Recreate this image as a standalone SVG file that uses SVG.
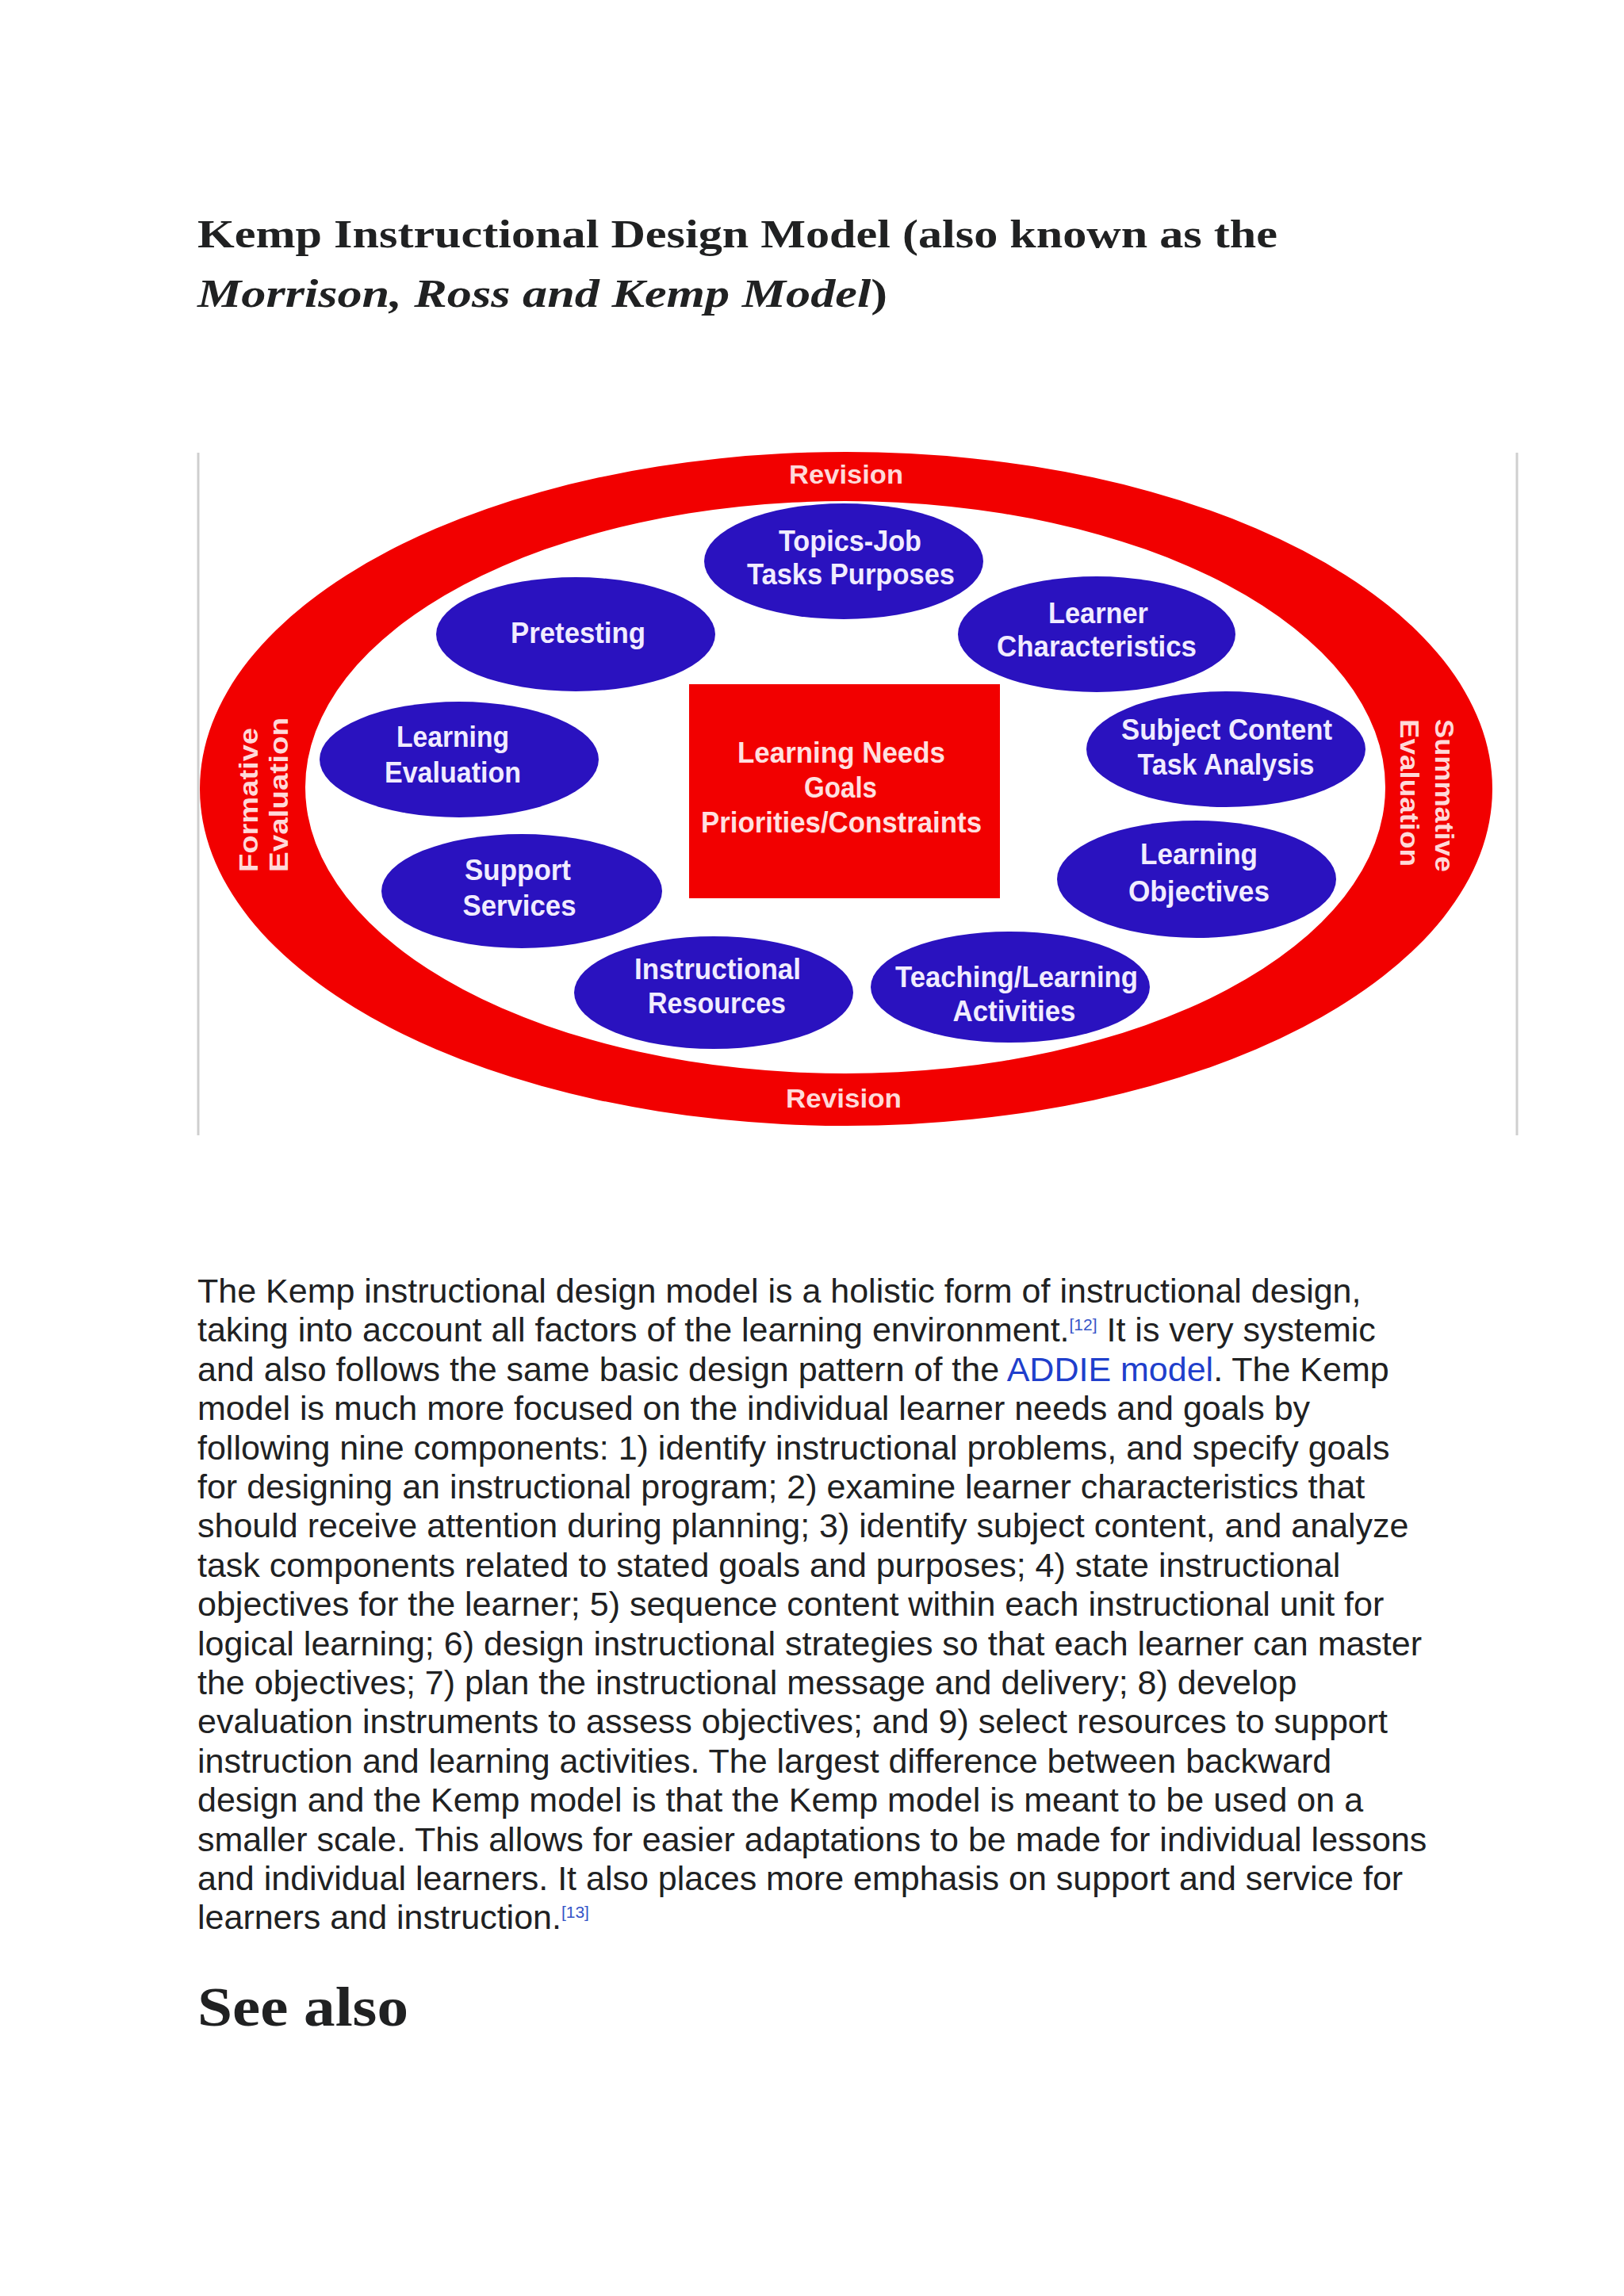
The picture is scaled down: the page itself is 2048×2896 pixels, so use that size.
<svg xmlns="http://www.w3.org/2000/svg" width="2048" height="2896" viewBox="0 0 2048 2896">
<style>
.title{font-family:"Liberation Serif",Georgia,serif;font-weight:bold;fill:#202122}
.body{font-family:"Liberation Sans",Arial,sans-serif;font-size:43px;fill:#202122}
.sup{font-size:21px;fill:#3655c8}
.link{fill:#1f3fcc}
.node ellipse{fill:#2a12bf}
.lbl{font-family:"Liberation Sans",Arial,sans-serif;font-weight:bold;font-size:36px;fill:#f1ecff;text-anchor:middle}
.ring{font-family:"Liberation Sans",Arial,sans-serif;font-weight:bold;font-size:33px;fill:#ffd9d9}
.ctr{font-family:"Liberation Sans",Arial,sans-serif;font-weight:bold;font-size:36px;fill:#ffe0e0;text-anchor:middle}
</style>
<rect width="2048" height="2896" fill="#ffffff"/>

<g id="title">
<text class="title" x="249" y="312" font-size="50" textLength="1362" lengthAdjust="spacingAndGlyphs">Kemp Instructional Design Model (also known as the</text>
<text class="title" x="249" y="387" font-size="50" textLength="870" lengthAdjust="spacingAndGlyphs"><tspan font-style="italic">Morrison, Ross and Kemp Model</tspan>)</text>
</g>

<g id="figure">
<line x1="250" y1="571" x2="250" y2="1432" stroke="#cfcfcf" stroke-width="3"/>
<line x1="1913" y1="571" x2="1913" y2="1432" stroke="#cfcfcf" stroke-width="3"/>
</g>

<g id="ring">
<path d="M252,995 a815,425 0 1,0 1630,0 a815,425 0 1,0 -1630,0 Z M385,993 a681,361 0 1,1 1362,0 a681,361 0 1,1 -1362,0 Z" fill="#f20000" fill-rule="evenodd"/>
<text class="ring" x="1067" y="610" text-anchor="middle" textLength="144" lengthAdjust="spacingAndGlyphs">Revision</text>
<text class="ring" x="1064" y="1397" text-anchor="middle" textLength="146" lengthAdjust="spacingAndGlyphs">Revision</text>
<text class="ring" transform="translate(325,1100) rotate(-90)" textLength="182" lengthAdjust="spacingAndGlyphs">Formative</text>
<text class="ring" transform="translate(363,1100) rotate(-90)" textLength="195" lengthAdjust="spacingAndGlyphs">Evaluation</text>
<text class="ring" transform="translate(1810,907) rotate(90)" textLength="193" lengthAdjust="spacingAndGlyphs">Summative</text>
<text class="ring" transform="translate(1766,907) rotate(90)" textLength="186" lengthAdjust="spacingAndGlyphs">Evaluation</text>
</g>

<g id="center-needs">
<rect x="869" y="863" width="392" height="270" fill="#f20000"/>
<text class="ctr" x="1061" y="962" textLength="262" lengthAdjust="spacingAndGlyphs">Learning Needs</text>
<text class="ctr" x="1060" y="1006" textLength="92" lengthAdjust="spacingAndGlyphs">Goals</text>
<text class="ctr" x="1061" y="1050" textLength="354" lengthAdjust="spacingAndGlyphs">Priorities/Constraints</text>
</g>

<g id="node-topics" class="node">
<ellipse cx="1064" cy="708" rx="176" ry="73"/>
<text class="lbl" x="1072" y="695" textLength="180" lengthAdjust="spacingAndGlyphs">Topics-Job</text>
<text class="lbl" x="1073" y="737" textLength="262" lengthAdjust="spacingAndGlyphs">Tasks Purposes</text>
</g>

<g id="node-pretesting" class="node">
<ellipse cx="726" cy="800" rx="176" ry="72"/>
<text class="lbl" x="729" y="811" textLength="170" lengthAdjust="spacingAndGlyphs">Pretesting</text>
</g>

<g id="node-learner" class="node">
<ellipse cx="1383" cy="800" rx="175" ry="73"/>
<text class="lbl" x="1385" y="786" textLength="126" lengthAdjust="spacingAndGlyphs">Learner</text>
<text class="lbl" x="1383" y="828" textLength="252" lengthAdjust="spacingAndGlyphs">Characteristics</text>
</g>

<g id="node-learning-evaluation" class="node">
<ellipse cx="579" cy="958" rx="176" ry="73"/>
<text class="lbl" x="571" y="942" textLength="142" lengthAdjust="spacingAndGlyphs">Learning</text>
<text class="lbl" x="571" y="987" textLength="172" lengthAdjust="spacingAndGlyphs">Evaluation</text>
</g>

<g id="node-subject" class="node">
<ellipse cx="1546" cy="945" rx="176" ry="73"/>
<text class="lbl" x="1547" y="933" textLength="266" lengthAdjust="spacingAndGlyphs">Subject Content</text>
<text class="lbl" x="1546" y="977" textLength="223" lengthAdjust="spacingAndGlyphs">Task Analysis</text>
</g>

<g id="node-support" class="node">
<ellipse cx="658" cy="1124" rx="177" ry="72"/>
<text class="lbl" x="653" y="1110" textLength="134" lengthAdjust="spacingAndGlyphs">Support</text>
<text class="lbl" x="655" y="1155" textLength="143" lengthAdjust="spacingAndGlyphs">Services</text>
</g>

<g id="node-objectives" class="node">
<ellipse cx="1509" cy="1109" rx="176" ry="74"/>
<text class="lbl" x="1512" y="1090" textLength="148" lengthAdjust="spacingAndGlyphs">Learning</text>
<text class="lbl" x="1512" y="1137" textLength="178" lengthAdjust="spacingAndGlyphs">Objectives</text>
</g>

<g id="node-resources" class="node">
<ellipse cx="900" cy="1252" rx="176" ry="71"/>
<text class="lbl" x="905" y="1235" textLength="210" lengthAdjust="spacingAndGlyphs">Instructional</text>
<text class="lbl" x="904" y="1278" textLength="174" lengthAdjust="spacingAndGlyphs">Resources</text>
</g>

<g id="node-activities" class="node">
<ellipse cx="1274" cy="1245" rx="176" ry="70"/>
<text class="lbl" x="1282" y="1245" textLength="306" lengthAdjust="spacingAndGlyphs">Teaching/Learning</text>
<text class="lbl" x="1279" y="1288" textLength="155" lengthAdjust="spacingAndGlyphs">Activities</text>
</g>

<g id="connectors"></g>

<g id="paragraph">
<text class="body" x="249" y="1643">The Kemp instructional design model is a holistic form of instructional design,</text>
<text class="body" x="249" y="1692">taking into account all factors of the learning environment.<tspan class="sup" dy="-14">[12]</tspan><tspan dy="14"> It is very systemic</tspan></text>
<text class="body" x="249" y="1742">and also follows the same basic design pattern of the <tspan class="link">ADDIE model</tspan>. The Kemp</text>
<text class="body" x="249" y="1791">model is much more focused on the individual learner needs and goals by</text>
<text class="body" x="249" y="1841">following nine components: 1) identify instructional problems, and specify goals</text>
<text class="body" x="249" y="1890">for designing an instructional program; 2) examine learner characteristics that</text>
<text class="body" x="249" y="1939">should receive attention during planning; 3) identify subject content, and analyze</text>
<text class="body" x="249" y="1989">task components related to stated goals and purposes; 4) state instructional</text>
<text class="body" x="249" y="2038">objectives for the learner; 5) sequence content within each instructional unit for</text>
<text class="body" x="249" y="2088">logical learning; 6) design instructional strategies so that each learner can master</text>
<text class="body" x="249" y="2137">the objectives; 7) plan the instructional message and delivery; 8) develop</text>
<text class="body" x="249" y="2186">evaluation instruments to assess objectives; and 9) select resources to support</text>
<text class="body" x="249" y="2236">instruction and learning activities. The largest difference between backward</text>
<text class="body" x="249" y="2285">design and the Kemp model is that the Kemp model is meant to be used on a</text>
<text class="body" x="249" y="2335">smaller scale. This allows for easier adaptations to be made for individual lessons</text>
<text class="body" x="249" y="2384">and individual learners. It also places more emphasis on support and service for</text>
<text class="body" x="249" y="2433">learners and instruction.<tspan class="sup" dy="-14">[13]</tspan></text>
</g>

<g id="see-also">
<text class="title" x="249" y="2555" font-size="70" textLength="266" lengthAdjust="spacingAndGlyphs">See also</text>
</g>
</svg>
